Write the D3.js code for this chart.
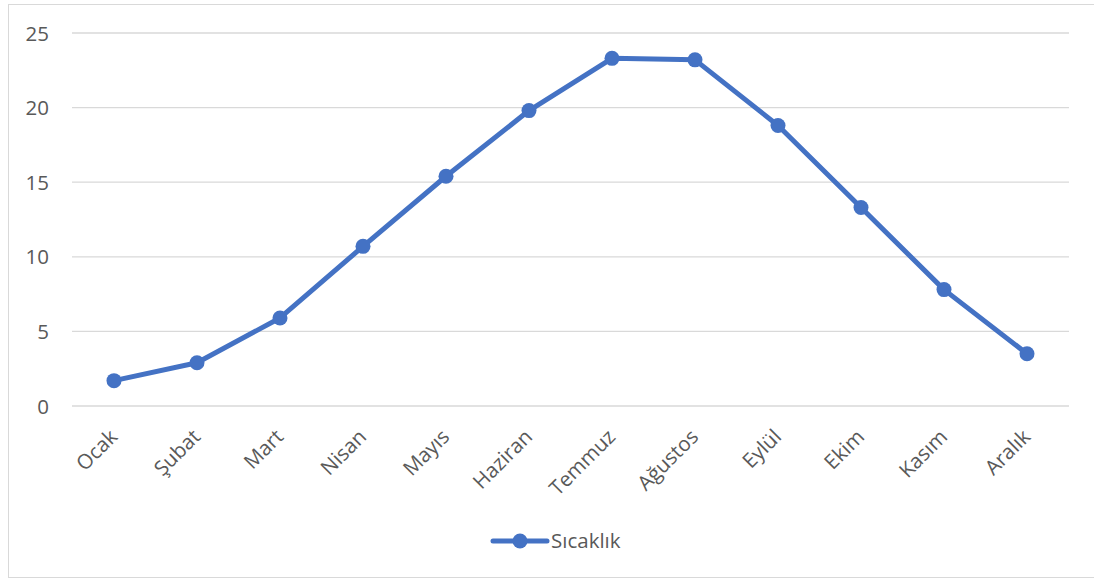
<!DOCTYPE html>
<html><head><meta charset="utf-8">
<script src="https://cdn.jsdelivr.net/npm/d3@7"></script>
<style>body{margin:0;background:#fff;} svg{display:block;}</style>
</head><body>
<svg id="c" width="1094" height="579"></svg>
<script>
const months = ["Ocak","Şubat","Mart","Nisan","Mayıs","Haziran","Temmuz","Ağustos","Eylül","Ekim","Kasım","Aralık"];
const temps = [1.7,2.9,5.9,10.7,15.4,19.8,23.3,23.2,18.8,13.3,7.8,3.5];
const yTicks = [0,5,10,15,20,25];
const seriesName = "Sıcaklık";

const svg = d3.select("#c");
const font = "'Open Sans', Lato, sans-serif";
const color = "#4472C4";
const textColor = "#595959";

svg.append("rect").attr("x",8.5).attr("y",4.5).attr("width",1100).attr("height",573)
  .attr("fill","#fff").attr("stroke","#d9d9d9").attr("stroke-width",1);

const x = d3.scalePoint().domain(months).range([114,1027]);
const y = d3.scaleLinear().domain([0,25]).range([406,33]);

const grid = svg.append("g");
grid.selectAll("line").data(yTicks).enter().append("line")
  .attr("x1",72).attr("x2",1069)
  .attr("y1",d=>y(d)).attr("y2",d=>y(d))
  .attr("stroke","#d9d9d9").attr("stroke-width",1.3);

const yAxis = d3.axisLeft(y).tickValues(yTicks).tickSize(0).tickPadding(0);
const yg = svg.append("g").attr("transform","translate(49,0)").call(yAxis);
yg.select(".domain").remove();
yg.selectAll("text").attr("font-family",font).attr("font-size",20.5).attr("fill",textColor).attr("dy","0.35em");

const xAxis = d3.axisBottom(x).tickSize(0).tickPadding(0);
const xg = svg.append("g").attr("transform","translate(0,420)").call(xAxis);
xg.select(".domain").remove();
xg.selectAll("text").attr("font-family",font).attr("font-size",20.5).attr("fill",textColor)
  .attr("text-anchor","end").attr("dy","0.35em")
  .attr("transform","translate(-1,13) rotate(-45)");

const line = d3.line().x((d,i)=>x(months[i])).y(d=>y(d));
svg.append("path").datum(temps).attr("d",line).attr("fill","none")
  .attr("stroke",color).attr("stroke-width",5).attr("stroke-linejoin","round").attr("stroke-linecap","round");
svg.append("g").selectAll("circle").data(temps).enter().append("circle")
  .attr("cx",(d,i)=>x(months[i])).attr("cy",d=>y(d)).attr("r",7.5).attr("fill",color);

const lg = svg.append("g");
lg.append("line").attr("x1",493).attr("x2",547).attr("y1",541).attr("y2",541)
  .attr("stroke",color).attr("stroke-width",5).attr("stroke-linecap","round");
lg.append("circle").attr("cx",520).attr("cy",541).attr("r",7.5).attr("fill",color);
lg.append("text").attr("x",551).attr("y",541).attr("dy","0.35em").text(seriesName)
  .attr("font-family",font).attr("font-size",20.5).attr("fill",textColor);
</script>
</body></html>
